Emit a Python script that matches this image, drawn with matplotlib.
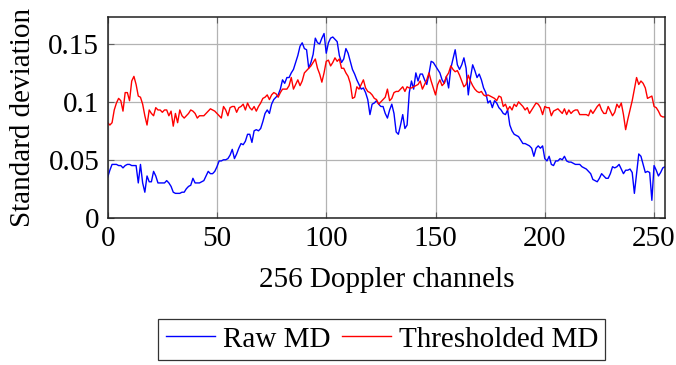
import matplotlib
matplotlib.use("Agg")
import matplotlib.pyplot as plt
import numpy as np

plt.rcParams['font.family'] = ['Liberation Serif', 'DejaVu Serif']
plt.rcParams['mathtext.fontset'] = 'stix'

channels = list(range(256))

raw_md = [
    0.035, 0.041, 0.046, 0.046, 0.046, 0.045, 0.045, 0.043, 0.045, 0.046,
    0.046, 0.045, 0.045, 0.045, 0.030, 0.046, 0.030, 0.022, 0.036, 0.031,
    0.031, 0.040, 0.036, 0.030, 0.030, 0.030, 0.030, 0.032, 0.030, 0.027,
    0.022, 0.021, 0.021, 0.021, 0.022, 0.022, 0.025, 0.027, 0.028, 0.034,
    0.030, 0.030, 0.030, 0.031, 0.032, 0.036, 0.040, 0.038, 0.038, 0.040,
    0.044, 0.049, 0.049, 0.050, 0.050, 0.051, 0.054, 0.059, 0.051, 0.055,
    0.060, 0.064, 0.063, 0.066, 0.072, 0.072, 0.065, 0.075, 0.076, 0.075,
    0.077, 0.083, 0.090, 0.093, 0.090, 0.098, 0.102, 0.104, 0.106, 0.111,
    0.119, 0.116, 0.121, 0.121, 0.125, 0.128, 0.134, 0.140, 0.148, 0.151,
    0.146, 0.145, 0.129, 0.134, 0.141, 0.155, 0.151, 0.150, 0.155, 0.159,
    0.142, 0.151, 0.155, 0.156, 0.154, 0.152, 0.140, 0.134, 0.137, 0.146,
    0.142, 0.135, 0.128, 0.124, 0.119, 0.115, 0.111, 0.112, 0.108, 0.102,
    0.089, 0.098, 0.099, 0.101, 0.098, 0.096, 0.096, 0.090, 0.086, 0.093,
    0.098, 0.090, 0.074, 0.072, 0.080, 0.089, 0.077, 0.080, 0.108, 0.118,
    0.111, 0.125, 0.118, 0.124, 0.124, 0.119, 0.115, 0.124, 0.135, 0.134,
    0.131, 0.128, 0.125, 0.119, 0.116, 0.122, 0.112, 0.129, 0.137, 0.145,
    0.132, 0.128, 0.132, 0.138, 0.129, 0.106, 0.121, 0.132, 0.127, 0.121,
    0.124, 0.119, 0.112, 0.108, 0.099, 0.101, 0.095, 0.101, 0.099, 0.095,
    0.093, 0.090, 0.089, 0.093, 0.080, 0.075, 0.072, 0.071, 0.070, 0.067,
    0.064, 0.064, 0.063, 0.062, 0.060, 0.053, 0.060, 0.062, 0.060, 0.062,
    0.051, 0.049, 0.053, 0.046, 0.045, 0.049, 0.049, 0.051, 0.050, 0.053,
    0.049, 0.048, 0.048, 0.047, 0.046, 0.046, 0.046, 0.044, 0.043, 0.042,
    0.040, 0.038, 0.033, 0.032, 0.031, 0.034, 0.038, 0.036, 0.034, 0.034,
    0.038, 0.044, 0.043, 0.044, 0.046, 0.042, 0.038, 0.041, 0.041, 0.042,
    0.039, 0.021, 0.038, 0.055, 0.053, 0.046, 0.039, 0.040, 0.039, 0.015,
    0.045, 0.041, 0.036, 0.039, 0.043, 0.044,
]

thresholded_md = [
    0.082, 0.080, 0.082, 0.093, 0.099, 0.103, 0.101, 0.092, 0.108, 0.108,
    0.101, 0.118, 0.122, 0.115, 0.105, 0.104, 0.098, 0.088, 0.080, 0.093,
    0.090, 0.088, 0.095, 0.093, 0.093, 0.091, 0.093, 0.093, 0.088, 0.092,
    0.079, 0.090, 0.082, 0.093, 0.088, 0.086, 0.088, 0.090, 0.093, 0.092,
    0.090, 0.086, 0.088, 0.088, 0.088, 0.090, 0.092, 0.094, 0.093, 0.092,
    0.090, 0.088, 0.086, 0.096, 0.093, 0.088, 0.095, 0.096, 0.096, 0.091,
    0.095, 0.096, 0.098, 0.093, 0.099, 0.095, 0.093, 0.096, 0.092, 0.096,
    0.099, 0.103, 0.104, 0.106, 0.102, 0.106, 0.108, 0.107, 0.104, 0.108,
    0.111, 0.111, 0.111, 0.114, 0.121, 0.111, 0.115, 0.119, 0.114, 0.118,
    0.125, 0.127, 0.129, 0.131, 0.134, 0.137, 0.129, 0.124, 0.117, 0.125,
    0.135, 0.136, 0.131, 0.134, 0.138, 0.135, 0.137, 0.129, 0.129, 0.125,
    0.122, 0.116, 0.103, 0.104, 0.113, 0.111, 0.115, 0.119, 0.112, 0.109,
    0.108, 0.106, 0.103, 0.102, 0.098, 0.100, 0.102, 0.104, 0.111, 0.101,
    0.103, 0.108, 0.109, 0.109, 0.111, 0.113, 0.109, 0.113, 0.112, 0.112,
    0.113, 0.114, 0.115, 0.118, 0.111, 0.115, 0.119, 0.125, 0.118, 0.112,
    0.106, 0.115, 0.119, 0.114, 0.116, 0.122, 0.125, 0.131, 0.128, 0.126,
    0.127, 0.123, 0.118, 0.113, 0.115, 0.123, 0.118, 0.114, 0.111, 0.109,
    0.108, 0.109, 0.106, 0.105, 0.106, 0.105, 0.104, 0.103, 0.101, 0.105,
    0.104, 0.096, 0.098, 0.093, 0.096, 0.093, 0.098, 0.096, 0.100, 0.098,
    0.096, 0.093, 0.095, 0.090, 0.093, 0.096, 0.099, 0.098, 0.095, 0.089,
    0.096, 0.095, 0.095, 0.088, 0.092, 0.093, 0.094, 0.092, 0.090, 0.094,
    0.089, 0.093, 0.090, 0.092, 0.093, 0.093, 0.089, 0.089, 0.089, 0.089,
    0.088, 0.093, 0.090, 0.093, 0.096, 0.098, 0.093, 0.090, 0.090, 0.096,
    0.092, 0.088, 0.091, 0.098, 0.095, 0.099, 0.089, 0.076, 0.085, 0.093,
    0.101, 0.111, 0.121, 0.115, 0.118, 0.116, 0.112, 0.103, 0.104, 0.105,
    0.096, 0.095, 0.092, 0.088, 0.087, 0.087,
]

series_labels = ["Raw MD", "Thresholded MD"]
x_ticks = [0, 50, 100, 150, 200, 250]
y_ticks = [0, 0.05, 0.1, 0.15]
y_tick_labels = ["0", "0.05", "0.1", "0.15"]

FS = 21

fig = plt.figure(figsize=(6.76, 3.65), dpi=100)
ax = fig.add_axes([0.1593, 0.4036, 0.9837 - 0.1593, 0.9526 - 0.4036])

ax.plot(channels, raw_md, color=(0, 0, 1), lw=1.0, label=series_labels[0])
ax.plot(channels, thresholded_md, color=(1, 0, 0), lw=1.0, label=series_labels[1])

ax.set_xlim(0, 255)
ax.set_ylim(0, 0.173)
ax.set_xticks(x_ticks)
ax.set_yticks(y_ticks)
ax.set_yticklabels(y_tick_labels)
ax.grid(True, color='#b3b3b3', lw=0.9)
ax.set_axisbelow(True)
ax.tick_params(direction='in', length=4, width=0.8, top=True, right=True,
               labelsize=FS, color='#606060')
ax.tick_params(axis='x', pad=6)
ax.tick_params(axis='y', pad=6)
for s in ax.spines.values():
    s.set_linewidth(1.1)
    s.set_color('#202020')

ax.set_xlabel("256 Doppler channels", fontsize=FS, labelpad=11)
ax.set_ylabel("Standard deviation", fontsize=FS, labelpad=9)

leg = ax.legend(loc='upper center', bbox_to_anchor=(0.492, -0.505), ncol=2,
                fontsize=FS, frameon=True, fancybox=False, edgecolor='black',
                handlelength=1.7, handletextpad=0.25, columnspacing=0.4,
                borderpad=0.25, borderaxespad=0)
leg.get_frame().set_linewidth(0.9)

fig.savefig("out.png", dpi=100)
